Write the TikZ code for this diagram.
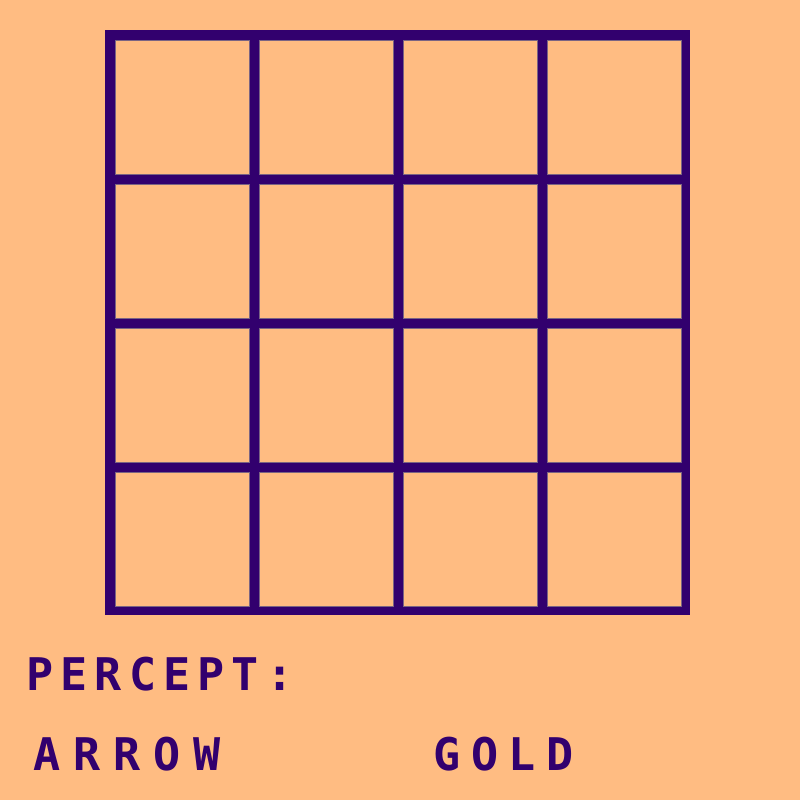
\documentclass[tikz,border=0pt]{standalone}
\usepackage{fontspec}
\newfontfamily\pixelfont{DejaVu Sans Mono}[LetterSpace=24]
\definecolor{Peach}{HTML}{FFBC82}
\definecolor{DPurple}{HTML}{32006E}
\definecolor{Edge}{HTML}{7A6483}

\begin{document}
\begin{tikzpicture}[x=1pt, y=-1pt]

    \def\N{4}
    \def\Pitch{144}
    \def\Cell{134}

    \useasboundingbox (0,0) rectangle (800,800);
    \fill[Peach] (0,0) rectangle (800,800);

    \tikzset{
        cellbox/.style={fill=Peach, draw=Edge, line width=0.8pt},
        label/.style={DPurple, anchor=base west, inner sep=0pt,
            font=\pixelfont\bfseries\fontsize{45}{45}\selectfont},
    }

    % Grid
    \fill[DPurple] (105,30) rectangle (690,615);
    \foreach \i in {0,...,3} {
        \foreach \j in {0,...,3} {
            \draw[cellbox] (115+\i*\Pitch,40+\j*\Pitch) rectangle ++(\Cell,\Cell);
        }
    }

    % Percept
    \node[label] (percept) at (26,690) {\addfontfeature{LetterSpace=16}PERCEPT:};
    \node[label] (arrow) at (33,770) {\addfontfeature{LetterSpace=29}ARROW};
    \node[label] (gold) at (433,770) {GOLD};

\end{tikzpicture}
\end{document}
